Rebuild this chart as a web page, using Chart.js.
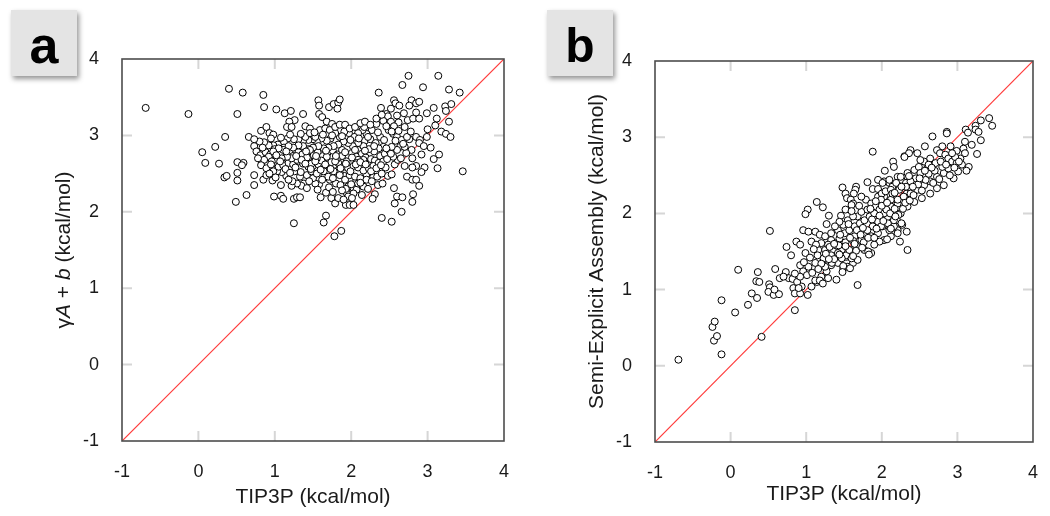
<!DOCTYPE html>
<html><head><meta charset="utf-8">
<script src="https://cdn.jsdelivr.net/npm/chart.js@4.4.1/dist/chart.umd.min.js"></script>
<style>
html,body{margin:0;padding:0;background:#fff;width:1050px;height:516px;overflow:hidden;position:relative;font-family:'Liberation Sans',Arial,Helvetica,sans-serif}
.panel{position:absolute;top:0;width:525px;height:516px}
.tag{position:absolute;width:66px;height:66px;background:#e4e4e4;box-shadow:2px 3px 5px rgba(0,0,0,.42);font-weight:bold;color:#000;text-align:center;z-index:2;overflow:visible}
</style></head><body>
<div class="panel" style="left:0"><canvas id="ca" width="525" height="516"></canvas></div>
<div class="panel" style="left:525px"><canvas id="cb" width="525" height="516"></canvas></div>
<div class="tag" style="left:11px;top:10px;font-size:52px;line-height:70px">a</div>
<div class="tag" style="left:547px;top:10px;font-size:48px;line-height:71px">b</div>
<script>
const tickValues = [-1, 0, 1, 2, 3, 4];
const diagonal = [-1, 4];
const xTitle = 'TIP3P (kcal/mol)';
const yTitleB = 'Semi-Explicit Assembly (kcal/mol)';

// panel a: [TIP3P, γA + b]
const panelA = [
[-0.69,3.36],[-0.13,3.28],[0.40,3.61],[0.58,3.56],[0.85,3.53],[0.86,3.37],[0.51,3.28],[1.02,3.34],[1.13,3.29],[1.21,3.32],
[1.37,3.28],[1.57,3.46],[1.58,3.39],[1.71,3.37],[1.77,3.41],[1.83,3.43],[1.85,3.47],[1.82,3.35],[1.58,3.28],[1.62,3.24],
[1.68,3.18],[1.75,3.15],[1.26,3.20],[1.19,3.18],[1.16,3.11],[1.22,3.11],[1.40,3.12],[1.46,3.09],[2.36,3.56],[2.67,3.66],
[2.75,3.78],[3.14,3.78],[2.94,3.63],[3.28,3.60],[3.42,3.56],[2.56,3.46],[2.39,3.36],[2.58,3.42],[2.63,3.39],[2.52,3.35],
[2.46,3.28],[2.48,3.25],[2.60,3.26],[2.79,3.46],[2.85,3.42],[2.89,3.44],[2.76,3.39],[2.99,3.29],[3.08,3.36],[3.23,3.38],
[3.31,3.41],[3.24,3.32],[3.12,3.22],[3.28,3.18],[2.74,3.20],[2.81,3.22],[2.89,3.22],[2.62,3.17],[2.52,3.18],[2.42,3.19],
[2.33,3.15],[2.56,3.12],[2.70,3.11],[3.10,3.13],[3.18,3.05],[3.24,3.02],[3.30,2.98],[2.99,2.98],[2.85,2.98],[2.90,2.94],
[2.76,2.95],[2.79,2.81],[2.89,2.90],[2.92,2.75],[3.04,2.84],[3.08,2.69],[3.15,2.75],[3.13,2.57],[2.96,2.58],[2.85,2.60],
[2.80,2.58],[2.92,2.52],[2.73,2.46],[2.80,2.42],[2.85,2.42],[2.89,2.34],[3.46,2.53],[2.56,2.31],[2.60,2.20],[2.67,2.19],
[2.57,2.11],[2.81,2.23],[2.80,2.13],[2.66,2.00],[2.40,1.92],[2.53,1.87],[2.35,2.35],[2.41,2.37],[2.31,2.23],[2.28,2.17],
[2.48,2.47],[2.53,2.49],[2.57,2.62],[2.61,2.68],[2.65,2.70],[2.72,2.77],[2.55,2.72],[2.45,2.58],[2.29,2.46],[2.20,2.49],
[2.16,2.59],[2.09,2.81],[2.18,2.93],[2.25,2.95],[2.32,2.90],[2.38,2.98],[2.43,2.94],[2.49,3.07],[2.55,3.02],[2.27,3.07],
[2.20,3.02],[2.15,3.07],[2.17,3.11],[2.09,3.03],[2.04,2.98],[1.97,3.03],[1.91,3.05],[1.85,2.98],[1.79,3.03],[1.73,2.96],
[1.68,2.93],[1.61,2.96],[1.55,2.92],[1.50,2.95],[1.44,2.94],[1.37,2.93],[1.31,2.95],[1.25,2.95],[1.17,2.96],[1.12,2.91],
[1.04,2.88],[0.98,2.87],[0.92,2.87],[0.86,2.91],[0.80,2.92],[0.73,2.86],[0.76,2.79],[0.66,2.98],[0.35,2.98],[0.22,2.85],
[0.05,2.78],[0.09,2.64],[0.27,2.63],[0.34,2.45],[0.37,2.47],[0.51,2.65],[0.51,2.51],[0.51,2.41],[0.59,2.64],[0.57,2.61],
[0.73,2.48],[0.73,2.35],[0.63,2.22],[0.49,2.13],[0.85,2.42],[0.89,2.48],[0.97,2.41],[0.99,2.20],[1.08,2.21],[1.11,2.17],
[1.25,2.17],[1.29,2.19],[1.33,2.19],[1.25,1.85],[1.64,1.86],[1.67,1.95],[1.78,1.68],[1.87,1.75],[1.60,2.19],[1.67,2.25],
[1.74,2.18],[1.79,2.11],[1.83,2.18],[1.93,2.09],[1.98,2.09],[2.03,2.09],[1.94,2.25],[1.96,2.33],[2.03,2.31],[2.07,2.29],
[2.09,2.37],[1.98,2.42],[1.91,2.47],[1.85,2.51],[1.80,2.37],[1.72,2.42],[1.65,2.47],[1.58,2.36],[1.53,2.37],[1.50,2.44],
[1.38,2.37],[1.35,2.34],[1.29,2.37],[1.22,2.34],[1.23,2.40],[1.15,2.47],[1.09,2.52],[1.03,2.53],[0.96,2.57],[0.89,2.64],
[0.83,2.66],[0.81,2.74],[0.88,2.78],[0.94,2.75],[1.00,2.82],[1.07,2.76],[1.12,2.84],[1.19,2.79],[1.24,2.73],[1.31,2.78],
[1.36,2.75],[1.44,2.71],[1.51,2.74],[1.56,2.78],[1.63,2.73],[1.69,2.77],[1.76,2.80],[1.82,2.75],[1.88,2.81],[1.95,2.74],
[2.01,2.77],[2.07,2.72],[2.14,2.76],[2.19,2.71],[2.26,2.69],[2.31,2.67],[2.38,2.73],[2.44,2.76],[2.50,2.80],[2.42,2.85],
[2.36,2.83],[2.30,2.79],[2.23,2.82],[2.16,2.86],[2.09,2.90],[2.02,2.86],[1.96,2.90],[1.90,2.92],[1.83,2.88],[1.77,2.86],
[1.70,2.84],[1.64,2.83],[1.57,2.86],[1.50,2.84],[1.44,2.82],[1.37,2.86],[1.31,2.87],[1.24,2.84],[1.18,2.86],[1.11,2.81],
[1.05,2.83],[0.98,2.79],[0.92,2.72],[0.86,2.68],[0.82,2.61],[0.89,2.57],[0.98,2.53],[1.05,2.59],[1.11,2.61],[1.18,2.64],
[1.24,2.62],[1.31,2.66],[1.37,2.63],[1.44,2.59],[1.50,2.60],[1.57,2.62],[1.64,2.58],[1.70,2.64],[1.77,2.61],[1.83,2.64],
[1.90,2.59],[1.96,2.57],[2.03,2.60],[2.09,2.58],[2.16,2.54],[2.23,2.57],[2.29,2.60],[2.36,2.64],[2.42,2.66],[2.16,2.68],
[2.09,2.68],[1.26,2.53],[1.33,2.46],[1.42,2.48],[1.48,2.53],[1.55,2.50],[1.64,2.53],[1.70,2.46],[1.77,2.53],[1.85,2.48],
[1.92,2.42],[1.98,2.48],[2.05,2.46],[2.12,2.44],[2.20,2.42],[2.27,2.40],[1.46,2.81],[1.40,2.98],[1.46,3.03],[1.53,2.98],
[1.59,3.07],[1.66,3.09],[1.72,3.07],[1.79,3.11],[1.85,3.14],[1.92,3.14],[1.98,3.09],[2.05,3.11],[2.12,3.16],[2.18,3.18],
[2.25,3.14],[2.33,3.22],[2.40,3.27],[2.46,3.12],[2.53,3.05],[2.60,2.98],[2.66,2.94],[2.73,2.98],[2.64,2.85],[2.70,2.85],
[2.60,2.81],[2.53,2.85],[2.46,2.83],[1.29,2.68],[1.22,2.70],[1.16,2.72],[1.09,2.70],[1.03,2.68],[0.96,2.66],[1.94,2.66],
[2.01,2.71],[2.07,2.64],[1.88,2.73],[1.81,2.69],[1.74,2.65],[1.68,2.72],[1.61,2.67],[1.55,2.70],[1.48,2.63],[1.42,2.71],
[1.35,2.68],[2.16,2.33],[2.03,2.24],[1.96,2.20],[1.90,2.16],[0.82,3.06],[0.89,3.11],[0.93,3.03],[0.98,3.01],[0.73,2.95],
[0.78,2.70],[0.84,2.84],[0.95,2.62],[1.01,2.45],[1.07,2.66],[1.14,2.56],[1.20,2.51],[1.27,2.58],[1.34,2.52],[1.40,2.63],
[1.47,2.56],[1.53,2.66],[1.60,2.55],[1.66,2.62],[1.73,2.56],[1.79,2.66],[1.86,2.57],[1.93,2.63],[1.99,2.53],[2.06,2.62],
[2.12,2.65],[2.19,2.62],[2.26,2.53],[2.33,2.57],[2.39,2.61],[1.02,2.74],[1.15,2.79],[1.28,2.73],[1.41,2.79],[1.54,2.73],
[1.67,2.80],[1.80,2.73],[1.92,2.78],[2.05,2.81],[2.18,2.80],[2.30,2.86],[1.71,2.32],[1.76,2.44],[1.86,2.35],[1.93,2.30],
[2.00,2.36],[2.12,2.38],[1.62,2.42],[1.45,2.40],[1.18,2.42],[1.08,2.35],[0.93,2.50],[2.22,2.30],[2.34,2.46],[2.40,2.50],
[1.88,2.28],[1.76,2.26],[2.01,2.18],[2.14,2.22],[1.56,2.29],[1.42,2.31],[2.47,2.69],[2.52,2.76],[2.68,2.89],[2.58,2.93],
[2.35,3.04],[2.22,2.98],[2.10,2.96],[1.99,2.94],[1.88,2.99],[1.75,3.00],[1.63,3.01],[1.52,3.04],[1.34,3.02],[1.20,3.01],
[1.08,2.97],[0.95,2.96],[2.62,3.06],[2.78,3.05],[2.69,3.29],[2.85,3.30],[3.00,3.08],[2.95,2.86],[2.80,2.70],[2.70,2.60]
];

// panel b: [TIP3P, Semi-Explicit Assembly]
const panelB = [
[-0.69,0.08],[-0.12,0.15],[-0.22,0.33],[-0.18,0.39],[-0.24,0.51],[-0.21,0.58],[-0.12,0.86],[0.06,0.70],[0.10,1.26],[0.23,0.80],
[0.28,0.95],[0.35,0.89],[0.34,1.11],[0.38,1.10],[0.36,1.23],[0.41,0.38],[0.51,1.07],[0.52,1.03],[0.50,0.97],[0.59,1.27],
[0.57,0.93],[0.64,0.94],[0.58,1.00],[0.65,1.15],[0.74,1.56],[0.80,1.45],[0.73,1.23],[0.77,1.15],[0.83,1.02],[0.85,0.95],
[0.82,1.14],[0.85,0.73],[0.92,0.95],[1.02,0.93],[0.94,1.04],[0.88,1.10],[0.96,1.24],[0.92,1.32],[0.99,1.48],[0.87,1.63],
[0.92,1.59],
[0.96,1.78],[1.03,1.76],[1.07,1.63],[1.12,1.76],[1.18,1.72],[1.16,1.52],[1.25,1.52],[1.23,1.39],[1.12,1.35],[1.03,1.30],
[1.01,1.19],[0.92,1.17],[0.85,1.21],[0.90,1.02],[0.70,1.17],[1.07,1.04],[1.14,1.10],[1.20,1.17],[1.27,1.24],[1.33,1.32],
[1.42,1.35],[1.49,1.28],[1.55,1.30],[1.62,1.35],[1.68,1.39],[1.40,1.13],[1.68,1.06],[1.53,1.43],[1.47,1.52],[1.60,1.52],
[1.68,1.56],[1.77,1.52],[1.86,1.48],[1.77,1.74],[1.86,1.70],[1.73,1.65],[1.95,1.74],[2.03,1.65],[2.12,1.70],[2.21,1.78],
[2.27,1.85],[2.24,1.63],[2.33,1.76],[2.34,1.52],[1.79,2.18],[1.86,2.13],[1.92,2.09],[1.97,2.05],[2.02,1.98],[2.08,1.94],
[2.14,1.89],[2.20,1.91],[2.26,1.87],[2.07,1.66],[1.33,1.65],[1.40,1.61],[1.29,1.59],[1.36,1.50],[1.44,1.67],[1.51,1.74],
[1.57,1.78],[1.64,1.83],[1.71,1.87],[1.77,1.91],[1.84,1.96],[1.90,2.00],[1.68,1.96],[1.73,2.02],[1.81,2.05],[1.55,1.91],
[1.62,1.96],[1.49,1.85],[1.42,1.78],[1.25,1.70],[1.20,1.61],[1.95,1.89],[2.01,1.83],[1.88,1.83],[1.81,1.78],[1.64,1.70],
[1.71,1.76],[1.97,1.63],[1.90,1.59],[2.10,1.78],[2.16,1.83],[2.21,2.13],[2.27,2.18],[2.33,2.26],[2.12,2.18],[2.03,2.22],
[1.95,2.22],[1.73,2.22],[1.52,2.26],[1.54,2.20],
[1.88,2.81],[2.30,2.75],[2.15,2.68],[2.16,2.61],[2.04,2.56],[2.21,2.48],[2.26,2.44],[2.32,2.40],[2.03,2.42],[2.10,2.40],
[2.14,2.35],[1.81,2.41],[1.88,2.32],[1.95,2.32],[2.00,2.26],[2.05,2.29],[2.12,2.31],[1.48,2.34],[1.66,2.35],[1.65,2.31],
[1.63,2.26],[1.59,2.18],[1.62,2.13],[1.60,2.11],[1.14,2.15],[1.22,2.08],[1.02,2.05],[0.99,1.99],[1.30,1.97],[1.27,1.86],
[0.52,1.77],[1.52,2.05],[1.46,1.97],[1.44,1.89],[1.38,1.83],[1.33,1.74],
[3.42,3.25],[3.46,3.15],[3.31,3.22],[3.24,3.15],[3.24,3.10],[3.28,3.07],[3.11,3.10],[3.14,3.06],[3.31,2.96],[3.26,2.78],
[2.86,3.07],[2.86,3.05],[2.67,3.01],[3.10,2.94],[3.19,2.90],[2.99,2.82],[3.08,2.85],[3.15,2.61],[3.12,2.56],[2.91,2.88],
[2.80,2.88],[2.73,2.83],[2.77,2.79],[2.84,2.77],[2.88,2.72],[2.93,2.68],[2.99,2.66],[3.04,2.72],[2.97,2.74],[2.57,2.88],
[2.38,2.83],[2.36,2.79],[2.30,2.74],[1.95,2.44],[2.01,2.40],[2.10,2.44],[2.19,2.40],[2.25,2.48],[2.34,2.53],[2.43,2.57],
[2.49,2.61],[2.56,2.68],[2.64,2.72],[2.71,2.66],[2.60,2.59],[2.51,2.53],[2.45,2.46],[2.38,2.42],[2.32,2.35],[2.23,2.31],
[2.14,2.26],[1.99,2.18],[2.03,2.00],[2.12,2.09],[2.21,2.18],[2.29,2.22],[2.38,2.26],[2.47,2.31],[2.56,2.37],[2.64,2.42],
[2.73,2.48],[2.82,2.53],[2.88,2.59],[2.95,2.46],[2.82,2.37],[2.73,2.33],[2.64,2.26],[2.53,2.20],[2.43,2.15],[2.34,2.09],
[2.25,2.00],[2.16,1.91],[2.08,1.87],[1.99,1.83],[2.12,1.80],[2.21,1.74],[2.51,2.70],[2.47,2.79],[2.62,2.64],[2.80,2.61],
[3.01,2.55],[2.93,2.79],[3.10,2.79],[3.06,2.64],
[1.13,1.59],[1.23,1.41],[1.33,1.45],[1.42,1.48],[1.53,1.45],[1.60,1.41],[1.66,1.51],[1.82,1.50],[1.34,1.35],[1.25,1.30],
[1.58,1.28],[1.49,1.31],[1.83,1.46],[1.12,1.12],[1.18,1.12],[1.22,1.08],[1.29,1.15],
[1.05,1.42],[1.10,1.53],[1.15,1.45],[1.20,1.34],[1.26,1.47],[1.31,1.56],[1.37,1.40],[1.43,1.58],[1.47,1.41],[1.52,1.62],
[1.57,1.52],[1.62,1.64],[1.67,1.78],[1.72,1.72],[1.76,1.62],[1.82,1.68],[1.87,1.92],[1.93,1.80],[1.97,1.97],[2.02,1.90],
[2.06,2.05],[2.11,2.00],[2.17,2.06],[2.22,1.98],[2.28,2.06],[2.31,2.14],[2.37,2.17],[2.42,2.24],[2.48,2.38],[2.53,2.30],
[2.58,2.44],[2.62,2.52],[2.68,2.40],[2.70,2.56],[2.76,2.45],[2.78,2.68],[2.85,2.64],[2.90,2.50],[2.96,2.60],[3.02,2.68],
[1.56,1.86],[1.60,2.03],[1.70,2.10],[1.75,1.81],[1.85,2.06],[1.92,2.16],[2.00,2.10],[2.07,2.14],[2.17,2.27],[2.26,2.35],
[2.36,2.49],[2.41,2.35],[2.50,2.46],[2.57,2.56],[2.66,2.60],[0.97,1.36],[1.08,1.22],[1.16,1.27],[1.30,1.40],[1.44,1.46],
[1.37,1.60],[1.45,1.72],[1.58,1.68],[1.52,1.57],[1.64,1.60],[1.74,1.55],[1.48,1.23],[1.62,1.44],[1.90,1.68],[2.18,1.96]
];

const FONT = "'Liberation Sans', Arial, Helvetica, sans-serif";
Chart.defaults.font.family = FONT;

const framePlugin = {
  id: 'frame',
  beforeDatasetsDraw(chart) {
    const {ctx, chartArea: a, scales: {x, y}} = chart;
    ctx.save();
    ctx.strokeStyle = '#d6d6d6';
    ctx.lineWidth = 2;
    const len = 10;
    tickValues.slice(1, -1).forEach(v => {
      const px = x.getPixelForValue(v);
      const py = y.getPixelForValue(v);
      ctx.beginPath();
      ctx.moveTo(px, a.top); ctx.lineTo(px, a.top + len);
      ctx.moveTo(px, a.bottom); ctx.lineTo(px, a.bottom - len);
      ctx.moveTo(a.left, py); ctx.lineTo(a.left + len, py);
      ctx.moveTo(a.right, py); ctx.lineTo(a.right - len, py);
      ctx.stroke();
    });
    ctx.restore();
  },
  afterDatasetsDraw(chart) {
    const {ctx, chartArea: a} = chart;
    ctx.save();
    ctx.strokeStyle = '#4d4d4d';
    ctx.lineWidth = 1.6;
    ctx.strokeRect(a.left, a.top, a.right - a.left, a.bottom - a.top);
    ctx.restore();
  }
};

const yTitleAPlugin = {
  id: 'yTitleA',
  afterDraw(chart) {
    const ctx = chart.ctx, a = chart.chartArea;
    const parts = [['\u03B3', ''], ['A', 'italic '], [' + ', ''], ['b', 'italic '], [' (kcal/mol)', '']];
    ctx.save();
    ctx.fillStyle = '#1a1a1a';
    ctx.textBaseline = 'middle';
    ctx.textAlign = 'left';
    let total = 0;
    parts.forEach(p => { ctx.font = p[1] + '21px ' + FONT; total += ctx.measureText(p[0]).width; });
    ctx.translate(64, (a.top + a.bottom) / 2);
    ctx.rotate(-Math.PI / 2);
    let x = -total / 2;
    parts.forEach(p => { ctx.font = p[1] + '21px ' + FONT; ctx.fillText(p[0], x, 0); x += ctx.measureText(p[0]).width; });
    ctx.restore();
  }
};

function makeChart(id, points, cfg) {
  const plugins = [framePlugin];
  if (cfg.extraPlugin) plugins.push(cfg.extraPlugin);
  return new Chart(document.getElementById(id), {
    type: 'scatter',
    data: {
      datasets: [
        {
          type: 'line',
          data: diagonal.map(v => ({x: v, y: v})),
          borderColor: '#ff3a3a',
          borderWidth: 1.2,
          pointRadius: 0,
          order: 2
        },
        {
          type: 'scatter',
          data: points.map(p => ({x: p[0], y: p[1]})),
          pointRadius: 3.5,
          pointBorderWidth: 1,
          pointBackgroundColor: '#ffffff',
          pointBorderColor: '#000000',
          order: 1
        }
      ]
    },
    options: {
      responsive: false,
      animation: false,
      layout: {padding: {left: 0, top: cfg.top, right: cfg.right, bottom: 0}},
      plugins: {legend: {display: false}, tooltip: {enabled: false}},
      scales: {
        x: {
          type: 'linear', min: -1, max: 4,
          afterBuildTicks: s => { s.ticks = tickValues.map(v => ({value: v})); },
          grid: {display: false}, border: {display: false},
          ticks: {font: {size: 18}, color: '#1a1a1a', padding: 12, maxRotation: 0, autoSkip: false},
          title: {display: true, text: xTitle, font: {size: 21}, color: '#1a1a1a', padding: {top: 0, bottom: cfg.xTitleBottom}},
          afterFit: s => { s.height = cfg.xHeight; }
        },
        y: {
          type: 'linear', min: -1, max: 4,
          afterBuildTicks: s => { s.ticks = tickValues.map(v => ({value: v})); },
          grid: {display: false}, border: {display: false},
          ticks: {font: {size: 18}, color: '#1a1a1a', padding: 15, autoSkip: false},
          title: cfg.yTitle ? {display: true, text: cfg.yTitle, font: {size: 21}, color: '#1a1a1a', padding: {top: cfg.yTitleTop, bottom: 0}} : {display: false},
          afterFit: s => { s.width = cfg.yWidth; }
        }
      }
    },
    plugins: plugins
  });
}

makeChart('ca', panelA, {top: 59, right: 21, xHeight: 75, yWidth: 122, xTitleBottom: 6, extraPlugin: yTitleAPlugin});
makeChart('cb', panelB, {top: 61, right: 13, xHeight: 74, yWidth: 130, xTitleBottom: 9, yTitle: yTitleB, yTitleTop: 60});
</script>
</body></html>
